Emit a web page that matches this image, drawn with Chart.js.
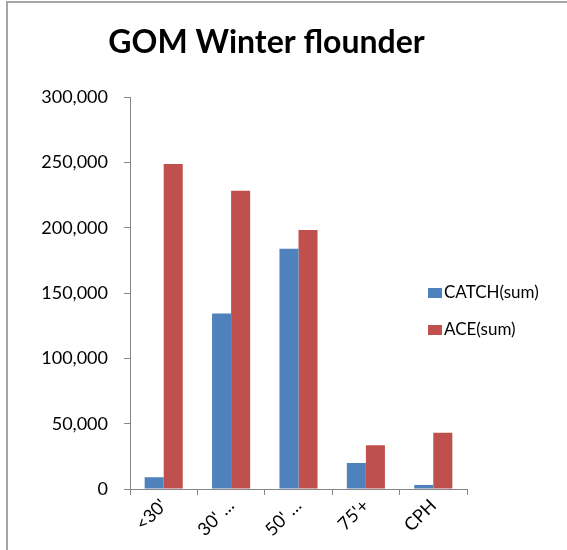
<!DOCTYPE html>
<html>
<head>
<meta charset="utf-8">
<script src="https://cdn.jsdelivr.net/npm/chart.js@4.4.1/dist/chart.umd.min.js"></script>
<style>
  html, body { margin: 0; padding: 0; background: #fff; }
  #wrap { position: relative; width: 567px; height: 550px; overflow: hidden; }
  #frame { position: absolute; left: 6px; top: 1px; width: 600px; height: 600px;
           border-top: 2px solid #a6a6a6; border-left: 2px solid #a6a6a6; pointer-events: none; }
  canvas { position: absolute; left: 0; top: 0; }
</style>
</head>
<body>
<div id="wrap">
  <canvas id="chart" width="567" height="550"></canvas>
  <div id="frame"></div>
</div>
<script>
const categories = ["<30'", "30' \u2026", "50' \u2026", "75'+", "CPH"];
const catchSum = [9000, 134500, 184000, 20000, 3000];
const aceSum = [249000, 228500, 198500, 33500, 43000];
const yTicks = [0, 50000, 100000, 150000, 200000, 250000, 300000];

const FONT = "Lato, 'Open Sans', sans-serif";
const AXIS_GREY = '#868686';

// legend drawn at the right, overlapping the plot like the original
const sideLegend = {
  id: 'sideLegend',
  afterDraw(chart) {
    const ctx = chart.ctx;
    ctx.save();
    ctx.font = '17px ' + FONT;
    ctx.textBaseline = 'middle';
    chart.data.datasets.forEach((ds, i) => {
      const y = 293 + i * 37;
      ctx.fillStyle = ds.backgroundColor;
      ctx.fillRect(428, y - 5, 14, 10);
      ctx.fillStyle = '#000';
      ctx.fillText(ds.label, 444, y);
    });
    ctx.restore();
  }
};

new Chart(document.getElementById('chart'), {
  type: 'bar',
  data: {
    labels: categories,
    datasets: [
      { label: 'CATCH(sum)', data: catchSum, backgroundColor: '#4F81BD' },
      { label: 'ACE(sum)', data: aceSum, backgroundColor: '#C0504D' }
    ]
  },
  options: {
    responsive: false,
    animation: false,
    layout: { padding: { left: 0, right: 34, top: 0, bottom: 0 } },
    datasets: { bar: { categoryPercentage: 0.565, barPercentage: 1 } },
    plugins: {
      legend: { display: false },
      tooltip: { enabled: false },
      title: {
        display: true,
        text: 'GOM Winter flounder',
        color: '#000',
        font: { family: FONT, size: 32, weight: 'bold', lineHeight: 1.2 },
        padding: { top: 23, bottom: 36 }
      }
    },
    scales: {
      x: {
        afterFit(s) { s.height = 61; },
        grid: { display: true, drawOnChartArea: false, tickLength: 6, color: AXIS_GREY, offset: true },
        border: { color: AXIS_GREY, width: 1 },
        ticks: {
          color: '#000', maxRotation: 45, minRotation: 45, padding: 0,
          font: { family: FONT, size: 18 }
        }
      },
      y: {
        min: 0, max: 300000,
        afterFit(s) { s.width = 130; },
        afterBuildTicks(s) { s.ticks = yTicks.map(v => ({ value: v })); },
        grid: { display: true, drawOnChartArea: false, tickLength: 6, color: AXIS_GREY },
        border: { color: AXIS_GREY, width: 1 },
        ticks: {
          color: '#000', padding: 16,
          font: { family: FONT, size: 18 },
          callback: v => v.toLocaleString('en-US')
        }
      },
      // empty axis on the right that only keeps room for the legend
      spacer: {
        type: 'linear', position: 'right', display: true,
        afterFit(s) { s.width = 66; },
        grid: { display: false },
        border: { display: false },
        ticks: { display: false }
      }
    }
  },
  plugins: [sideLegend]
});
</script>
</body>
</html>
